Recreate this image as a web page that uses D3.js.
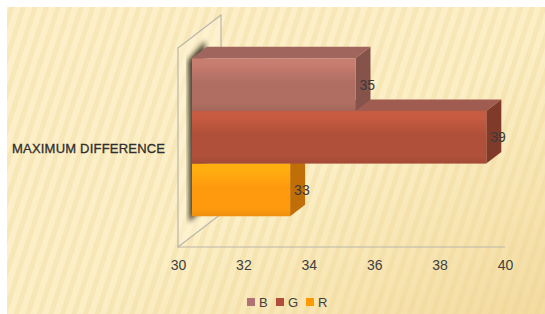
<!DOCTYPE html>
<html>
<head>
<meta charset="utf-8">
<title>Maximum difference</title>
<script src="https://cdn.jsdelivr.net/npm/d3@7/dist/d3.min.js"></script>
<style>
  body { margin: 0; background: #ffffff; }
  text { font-family: "Liberation Sans", Arial, sans-serif; }
</style>
</head>
<body>
<script>
// chart data
var categories = ["MAXIMUM DIFFERENCE"];
var series = ["B", "G", "R"];
var values = [35, 39, 33];
var tickValues = [30, 32, 34, 36, 38, 40];

// colours per series: front, top, side
var frontColors = ["#b06e62", "#b0503a", "#ff9a0e"];
var topColors = ["#a0665e", "#a05c50", "#e08810"];
var sideColors = ["#86534a", "#7f3a2a", "#c06e08"];
var legendColors = ["#b07272", "#b24c3c", "#ff9a00"];

// set dimensions canvas
var canvasX = 545;
var canvasY = 314;

// 3d depth of the plot box and of the bars
var depthX = 43;
var depthY = -33;
var gapFrac = 14 / 43;
var barFrac = 15 / 43;

var svg = d3.select("body")
            .append("svg")
            .attr("width", canvasX)
            .attr("height", canvasY);

var defs = svg.append("defs");

// background gradient and stripes
var bg = defs.append("linearGradient")
             .attr("id", "bgGrad")
             .attr("x1", 0).attr("y1", 0)
             .attr("x2", 1).attr("y2", 1);
bg.append("stop").attr("offset", "0%").attr("stop-color", "#fdf0c9");
bg.append("stop").attr("offset", "55%").attr("stop-color", "#fcefc6");
bg.append("stop").attr("offset", "100%").attr("stop-color", "#f3dba0");

var stripes = defs.append("pattern")
                  .attr("id", "stripes")
                  .attr("width", 11)
                  .attr("height", 11)
                  .attr("patternUnits", "userSpaceOnUse")
                  .attr("patternTransform", "rotate(18)");
stripes.append("rect")
       .attr("width", 5)
       .attr("height", 11)
       .attr("fill", "#e8cf8c")
       .attr("opacity", 0.28);

svg.append("rect")
   .attr("x", 7).attr("y", 7)
   .attr("width", canvasX - 7)
   .attr("height", canvasY - 7)
   .attr("fill", "url(#bgGrad)");
svg.append("rect")
   .attr("x", 7).attr("y", 7)
   .attr("width", canvasX - 7)
   .attr("height", canvasY - 7)
   .attr("fill", "url(#stripes)");

// gloss gradients for the bar fronts
frontColors.forEach(function(c, i) {
    var g = defs.append("linearGradient")
                .attr("id", "front" + i)
                .attr("x1", 0).attr("y1", 0)
                .attr("x2", 0).attr("y2", 1);
    var light = d3.color(c).brighter(0.35);
    g.append("stop").attr("offset", "0%").attr("stop-color", light);
    g.append("stop").attr("offset", "12%").attr("stop-color", light);
    g.append("stop").attr("offset", "45%").attr("stop-color", c);
    g.append("stop").attr("offset", "85%").attr("stop-color", c);
    g.append("stop").attr("offset", "100%").attr("stop-color", d3.color(c).darker(0.2));
});

defs.append("filter")
    .attr("id", "blur")
    .append("feGaussianBlur")
    .attr("stdDeviation", 2.5);

// scales (front plane of the box)
var scaleX = d3.scaleLinear()
               .domain([30, 40])
               .range([178, 505]);

var scaleY = d3.scaleBand()
               .domain(series)
               .range([69, 227]);

var plotTop = 48;
var plotBottom = 247;

// left wall of the box
var wall = [[scaleX(30), plotTop], [scaleX(30) + depthX, plotTop + depthY],
            [scaleX(30) + depthX, plotBottom + depthY], [scaleX(30), plotBottom]];
svg.append("polygon")
   .attr("points", wall.map(function(p) { return p.join(","); }).join(" "))
   .attr("fill", "#fdf3d6")
   .attr("fill-opacity", 0.5)
   .attr("stroke", "#b9b6ac")
   .attr("stroke-width", 1.2);

// floor front edge
svg.append("line")
   .attr("x1", scaleX(30)).attr("y1", plotBottom)
   .attr("x2", scaleX(40)).attr("y2", plotBottom)
   .attr("stroke", "#b9b6ac")
   .attr("stroke-width", 1.2);

// offsets for the bar boxes
var offX = depthX * gapFrac;
var offY = depthY * gapFrac;
var bX = depthX * barFrac;
var bY = depthY * barFrac;

// shadow of the bars on the wall
var x0 = scaleX(30) + offX;
var yTop = scaleY(series[0]) + offY;
var yBot = scaleY(series[series.length - 1]) + scaleY.bandwidth() + offY;
svg.append("polygon")
   .attr("points", [[x0 - 4, yTop + 2], [x0 + bX - 2, yTop + bY - 6],
                    [x0 + bX, yBot + bY], [x0 - 3, yBot + 6]]
                    .map(function(p) { return p.join(","); }).join(" "))
   .attr("fill", "#2a2616")
   .attr("opacity", 0.85)
   .attr("filter", "url(#blur)");

// draw the bars, bottom one first so upper bars cover the lower top faces
var barData = values.map(function(v, i) { return {v: v, i: i}; }).reverse();
var bars = svg.selectAll(".bar")
              .data(barData)
              .enter()
              .append("g")
              .attr("class", "bar");

bars.each(function(d) {
    var g = d3.select(this);
    var left = scaleX(30) + offX;
    var right = scaleX(d.v) + offX;
    var top = scaleY(series[d.i]) + offY;
    var bottom = top + scaleY.bandwidth();

    // top face
    g.append("polygon")
     .attr("points", [[left, top], [left + bX, top + bY], [right + bX, top + bY], [right, top]]
                     .map(function(p) { return p.join(","); }).join(" "))
     .attr("fill", topColors[d.i]);

    // right side face
    g.append("polygon")
     .attr("points", [[right, top], [right + bX, top + bY], [right + bX, bottom + bY], [right, bottom]]
                     .map(function(p) { return p.join(","); }).join(" "))
     .attr("fill", sideColors[d.i]);

    // front face
    g.append("rect")
     .attr("x", left)
     .attr("y", top)
     .attr("width", right - left)
     .attr("height", bottom - top)
     .attr("fill", "url(#front" + d.i + ")");
});

// value labels on top of everything
bars.append("text")
    .attr("x", function(d) { return scaleX(d.v) + offX + 4; })
    .attr("y", function(d) { return scaleY(series[d.i]) + offY + scaleY.bandwidth() / 2 + 5; })
    .attr("font-size", 14)
    .attr("fill", "#3a3a3a")
    .text(function(d) { return d.v; });

// x-axis tick labels
var xAxis = d3.axisBottom(scaleX)
              .tickValues(tickValues)
              .tickSize(0)
              .tickPadding(13);
var axisG = svg.append("g")
               .attr("transform", "translate(0," + plotBottom + ")")
               .call(xAxis);
axisG.select(".domain").remove();
axisG.selectAll("text")
     .attr("font-family", "Liberation Sans, Arial, sans-serif")
     .attr("font-size", 14)
     .attr("fill", "#404040");

// category label
svg.append("text")
   .attr("x", 12)
   .attr("y", (scaleY.range()[0] + scaleY.range()[1]) / 2 + 5)
   .attr("font-size", 13)
   .attr("textLength", 153)
   .attr("fill", "#2e2e2e")
   .attr("stroke", "#2e2e2e")
   .attr("stroke-width", 0.3)
   .text(categories[0]);

// legend
var legendX = [247, 276, 306];
var legend = svg.selectAll(".legend")
                .data(series)
                .enter()
                .append("g")
                .attr("class", "legend")
                .attr("transform", function(d, i) { return "translate(" + legendX[i] + ",298)"; });
legend.append("rect")
      .attr("width", 8)
      .attr("height", 8)
      .attr("fill", function(d, i) { return legendColors[i]; });
legend.append("text")
      .attr("x", 12)
      .attr("y", 9)
      .attr("font-size", 13)
      .attr("fill", "#404040")
      .text(function(d) { return d; });
</script>
</body>
</html>
